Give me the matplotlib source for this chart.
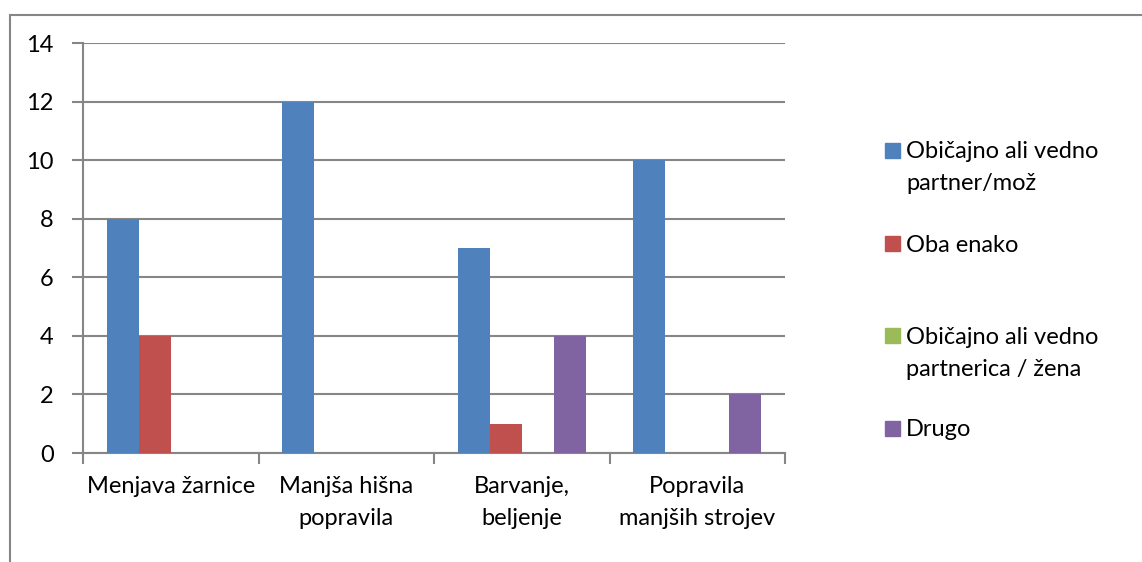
import matplotlib
matplotlib.use("Agg")
import matplotlib.pyplot as plt
from matplotlib.patches import Rectangle
import numpy as np

categories = ["Menjava žarnice", "Manjša hišna\npopravila", "Barvanje,\nbeljenje", "Popravila\nmanjših strojev"]
series_names = ["Običajno ali vedno\npartner/mož", "Oba enako", "Običajno ali vedno\npartnerica / žena", "Drugo"]
blue = [8, 12, 7, 10]
red = [4, 0, 1, 0]
green = [0, 0, 0, 0]
purple = [0, 0, 4, 2]
yticks = [0, 2, 4, 6, 8, 10, 12, 14]
colors = ["#4F81BD", "#C0504D", "#9BBB59", "#8064A2"]
series = [blue, red, green, purple]

FONT = "Lato"
FS = 17
LINE = 32  # px between baselines
W, H = 1142, 562
fig = plt.figure(figsize=(W / 100, H / 100), dpi=100)
fig.patch.set_facecolor("white")

# chart border
fig.patches.append(Rectangle((10 / W, -0.1), 1.2, (562 - 15) / H + 0.1, transform=fig.transFigure,
                             fill=False, edgecolor="#868686", linewidth=1.5))

ax = fig.add_axes([83 / W, (562 - 453) / H, (785 - 83) / W, (453 - 43) / H])
x = np.arange(len(categories))
bw = 1 / 5.5
for i, (vals, c) in enumerate(zip(series, colors)):
    ax.bar(x + (i - 1.5) * bw, vals, width=bw, color=c, edgecolor="none", zorder=3)

ax.set_xlim(-0.5, len(categories) - 0.5)
ax.set_ylim(0, 14)
ax.set_yticks(yticks)
ax.set_yticklabels([str(v) for v in yticks], fontsize=FS, family=FONT)
ax.yaxis.grid(True, color="#868686", linewidth=1.5, zorder=0)
for s in ["top", "right"]:
    ax.spines[s].set_visible(False)
for s in ["left", "bottom"]:
    ax.spines[s].set_color("#868686")
    ax.spines[s].set_linewidth(1.5)
ax.tick_params(axis="y", length=8, width=1.5, color="#868686", pad=13)
ax.set_xticks(np.arange(-0.5, len(categories)), minor=False)
ax.set_xticklabels([])
ax.tick_params(axis="x", length=8, width=1.5, color="#868686")

# category labels, one line at a time (baselines in pixels)
for xi, lab in zip(x, categories):
    xf = ax.transData.transform((xi, 0))[0] / W
    for k, line in enumerate(lab.split("\n")):
        fig.text(xf, 1 - (493 + k * LINE) / H, line, ha="center", va="baseline",
                 fontsize=FS, family=FONT)

# legend
legend_y = [150, 243.5, 335.5, 428.5]
for name, c, yc in zip(series_names, colors, legend_y):
    fig.patches.append(Rectangle((885 / W, 1 - (yc + 7.5) / H), 15 / W, 15 / H,
                                 transform=fig.transFigure, color=c))
    for k, line in enumerate(name.split("\n")):
        fig.text(906 / W, 1 - (yc + 8 + k * LINE) / H, line, ha="left", va="baseline",
                 fontsize=FS, family=FONT)

fig.savefig("out.png", dpi=100)
